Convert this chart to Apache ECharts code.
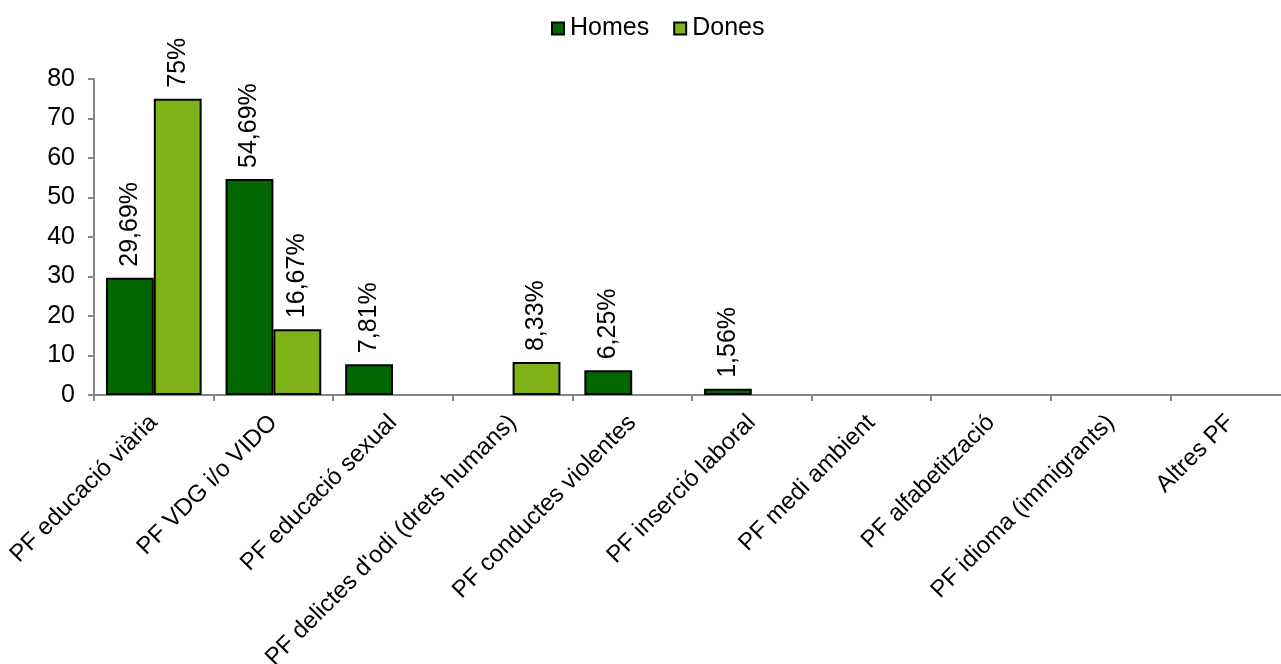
<!DOCTYPE html>
<html>
<head>
<meta charset="utf-8">
<script src="https://cdn.jsdelivr.net/npm/echarts@6/dist/echarts.min.js"></script>
<style>
html,body{margin:0;padding:0;background:#fff;}
#chart{width:1281px;height:664px;}
</style>
</head>
<body>
<div id="chart"></div>
<script>
var categories = ["PF educació viària", "PF VDG i/o VIDO", "PF educació sexual", "PF delictes d'odi (drets humans)", "PF conductes violentes", "PF inserció laboral", "PF medi ambient", "PF alfabetització", "PF idioma (immigrants)", "Altres PF"];
var homes = [29.69, 54.69, 7.81, 0, 6.25, 1.56, 0, 0, 0, 0];
var dones = [75, 16.67, 0, 8.33, 0, 0, 0, 0, 0, 0];
var yTicks = [0, 10, 20, 30, 40, 50, 60, 70, 80];

var FONT = '"Liberation Sans", Arial, sans-serif';
function fmt(p) {
  var v = p.value;
  if (!v) return '';
  return String(v).replace('.', ',') + '%';
}
function noZero(arr) { return arr.map(function (v) { return v === 0 ? '-' : v; }); }
var labelCfg = {
  show: true, position: 'top', rotate: 90, align: 'left', verticalAlign: 'middle',
  distance: 11, color: '#000', fontSize: 25, fontFamily: FONT, formatter: fmt
};
var chart = echarts.init(document.getElementById('chart'));
chart.setOption({
  animation: false,
  backgroundColor: '#fff',
  textStyle: { fontFamily: FONT },
  legend: {
    top: 11, left: 546, itemWidth: 12, itemHeight: 12, itemGap: 24,
    icon: 'rect',
    itemStyle: { borderColor: '#000', borderWidth: 2 },
    textStyle: { fontSize: 25, color: '#000', fontFamily: FONT, padding: [0, 0, 0, 1] },
    data: ['Homes', 'Dones']
  },
  grid: { left: 94, top: 79, bottom: 269, right: -9, containLabel: false, outerBoundsMode: 'none' },
  xAxis: {
    type: 'category', data: categories,
    axisLine: { lineStyle: { color: '#868686', width: 2 } },
    axisTick: { show: true, length: 6, lineStyle: { color: '#868686', width: 2 } },
    axisLabel: { rotate: 45, interval: 0, margin: 24, fontSize: 24, color: '#000', fontFamily: FONT }
  },
  yAxis: {
    type: 'value', min: yTicks[0], max: yTicks[yTicks.length - 1], interval: 10,
    axisLine: { show: true, lineStyle: { color: '#868686', width: 2 } },
    axisTick: { show: true, length: 6, lineStyle: { color: '#868686', width: 2 } },
    splitLine: { show: false },
    axisLabel: { margin: 19, fontSize: 25, color: '#000', fontFamily: FONT }
  },
  series: [
    { name: 'Homes', type: 'bar', data: noZero(homes), barGap: '0%', barCategoryGap: '20%',
      itemStyle: { color: '#006600', borderColor: '#000', borderWidth: 2 }, label: labelCfg },
    { name: 'Dones', type: 'bar', data: noZero(dones), barGap: '0%', barCategoryGap: '20%',
      itemStyle: { color: '#80b31a', borderColor: '#000', borderWidth: 2 }, label: labelCfg }
  ]
});
</script>
</body>
</html>
